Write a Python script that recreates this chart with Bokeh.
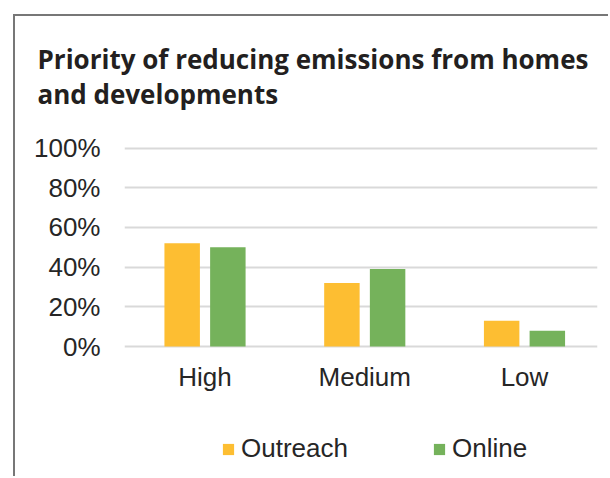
from bokeh.plotting import figure
from bokeh.models import (Range1d, FixedTicker, NumeralTickFormatter, Legend, LegendItem,
                          Label, ColumnDataSource)
from bokeh.layouts import column
from bokeh.transform import dodge
from bokeh.embed import file_html
from bokeh.resources import INLINE

# ---- data ----
categories = ["High", "Medium", "Low"]
outreach = [0.52, 0.32, 0.13]
online = [0.50, 0.39, 0.08]
series_names = ["Outreach", "Online"]
y_ticks = [0.0, 0.2, 0.4, 0.6, 0.8, 1.0]
title_lines = ["Priority of reducing emissions from homes", "and developments"]

ORANGE = "#FDBE32"
GREEN = "#75B25B"
TEXT = "#262626"
W = 593

xpos = [i + 0.5 for i in range(len(categories))]
src = ColumnDataSource(dict(x=xpos, outreach=outreach, online=online))
off = 0.143
bw = 0.222


def bare(fig):
    fig.outline_line_color = None
    fig.background_fill_color = "white"
    fig.border_fill_color = "white"
    fig.axis.visible = False
    fig.grid.visible = False
    return fig


# ---- title panel ----
pt = figure(width=W, height=114, output_backend="svg", toolbar_location=None,
            x_range=Range1d(0, 1), y_range=Range1d(0, 1), min_border=0, frame_align=False)
bare(pt)
for i, t in enumerate(title_lines):
    pt.add_layout(Label(x=22, y=72 - 35 * i, x_units="screen", y_units="screen", text=t,
                        text_font="Open Sans", text_font_style="bold", text_font_size="26px",
                        text_color="#231F20", text_baseline="alphabetic", text_align="left"))

# ---- main chart ----
p = figure(width=W, height=270, output_backend="svg", toolbar_location=None,
           x_range=Range1d(-0.004, 2.957), y_range=Range1d(-0.01, 1.0126),
           min_border_left=109, min_border_right=11, min_border_top=15, min_border_bottom=52,
           frame_align=False)
p.outline_line_color = None
p.background_fill_color = "white"
p.border_fill_color = "white"

p.vbar(x=dodge("x", -off), top="outreach", bottom=0, width=bw, source=src,
       fill_color=ORANGE, line_color=None)
p.vbar(x=dodge("x", off), top="online", bottom=0, width=bw, source=src,
       fill_color=GREEN, line_color=None)

p.xaxis.ticker = FixedTicker(ticks=xpos)
p.xaxis.major_label_overrides = {x: c for x, c in zip(xpos, categories)}
p.yaxis.ticker = FixedTicker(ticks=y_ticks)
p.yaxis.formatter = NumeralTickFormatter(format="0%")
for ax in (p.xaxis, p.yaxis):
    ax.axis_line_color = None
    ax.major_tick_line_color = None
    ax.minor_tick_line_color = None
    ax.major_tick_out = 0
    ax.major_tick_in = 0
    ax.major_label_text_font = "Liberation Sans"
    ax.major_label_text_font_size = "26px"
    ax.major_label_text_color = TEXT
p.yaxis.major_label_standoff = 24
p.xaxis.major_label_standoff = 13

p.xgrid.grid_line_color = None
p.ygrid.ticker = FixedTicker(ticks=y_ticks)
p.ygrid.grid_line_color = "#D9D9D9"
p.ygrid.grid_line_width = 2

# ---- legend panel (series drawn out of view; only their legend keys show) ----
pl = figure(width=W, height=76, output_backend="svg", toolbar_location=None,
            x_range=Range1d(0, 1), y_range=Range1d(5, 6), min_border=0, frame_align=False)
bare(pl)
g1 = pl.vbar(x="x", top="outreach", bottom=0, width=bw, source=src,
             fill_color=ORANGE, line_color=None)
g2 = pl.vbar(x="x", top="online", bottom=0, width=bw, source=src,
             fill_color=GREEN, line_color=None)
legend = Legend(items=[LegendItem(label=series_names[0], renderers=[g1]),
                       LegendItem(label=series_names[1], renderers=[g2])],
                orientation="horizontal", location=(206, 12),
                glyph_width=14, glyph_height=14, label_standoff=6, spacing=84,
                padding=0, margin=0, border_line_color=None, background_fill_alpha=0,
                label_text_font="Liberation Sans", label_text_font_size="26px",
                label_text_color=TEXT)
pl.add_layout(legend, "center")

lay = column(pt, p, pl, spacing=0)
lay.margin = (14, 0, 0, 13)
lay.styles = {"border-left": "2px solid #777777", "border-top": "2px solid #777777"}

open("out.html", "w").write(file_html(lay, INLINE))
